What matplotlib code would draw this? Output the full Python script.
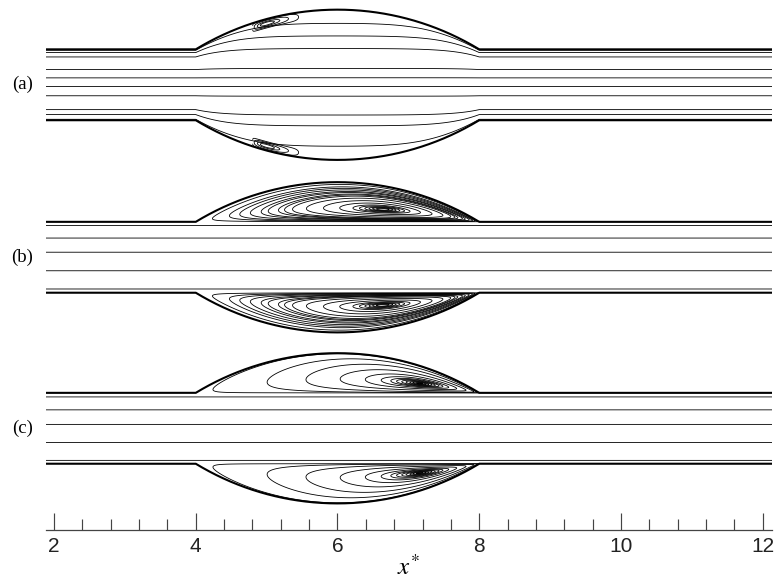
import numpy as np
import matplotlib
matplotlib.use("Agg")
import matplotlib.pyplot as plt
from matplotlib.ticker import FixedLocator, MultipleLocator

plt.rcParams["mathtext.fontset"] = "stix"
plt.rcParams["contour.negative_linestyle"] = "solid"

# ---- channel geometry (lengths measured in channel widths) ----
x_lo, x_hi = 1.887, 12.131
bulge_start, bulge_end = 4.0, 8.0
bulge_depth = 0.56
half_width = 0.5

panel_labels = ["(a)", "(b)", "(c)"]
panel_centres = [7.03, 4.596, 2.183]

# stream-function levels in the straight channel (psi = +1 top wall, -1 bottom wall)
core_levels = [
    [0.999, 0.988, 0.936, 0.605, 0.289, -0.075, -0.450, -0.879, -0.964, -0.999],
    [0.984, 0.734, 0.213, -0.543, -0.984],
    [0.981, 0.710, 0.164, -0.568, -0.987],
]
# how strongly the outer streamlines of (a) are drawn into the bulge
spread_power = 1.8

# recirculating eddy filling the bulge in (b) and (c)
eddy_centre_u = [0.66, 0.79]      # position along the bulge (0 = start, 1 = end)
eddy_centre_t = 0.35              # position across the bulge (0 = core edge, 1 = wall)
eddy_skew_left = [1.165, 1.88]
eddy_skew_right = [0.6, 0.5]
eddy_levels_b = [0.11, 0.24, 0.32, 0.40, 0.48, 0.53, 0.60, 0.64, 0.69, 0.77,
                 0.855, 0.92, 0.96, 0.975, 0.985, 0.991, 0.995, 0.998]
eddy_levels_c = [0.017, 0.22, 0.45, 0.67, 0.82, 0.90, 0.94, 0.96, 0.975,
                 0.985, 0.992, 0.996, 0.999]

# small separation bubble hugging the bulge wall in (a)
bubble_x = [4.80, 5.00, 5.55]     # start, core, end
bubble_thickness = 0.13
bubble_levels = [0.12, 0.45, 0.75, 0.9]

# ruler
major_ticks = [2, 4, 6, 8, 10, 12]
minor_step = 0.4

PX = 70.87                         # pixels per unit length
W_PX, H_PX = 775, 583


def bulge(x):
    L = bulge_end - bulge_start
    R = (L ** 2 / 4 + bulge_depth ** 2) / (2 * bulge_depth)
    mid = 0.5 * (bulge_start + bulge_end)
    out = np.zeros_like(x)
    inside = (x > bulge_start) & (x < bulge_end)
    out[inside] = np.sqrt(R ** 2 - (x[inside] - mid) ** 2) - (R - bulge_depth)
    return np.clip(out, 0, None)


def poiseuille(e):
    return 1.5 * e - 0.5 * e ** 3


def skew_bump(u, uc, a, c):
    u = np.clip(u, 0, 1)
    return (u / uc) ** a * ((1 - u) / (1 - uc)) ** c


xs = np.linspace(x_lo, x_hi, 2400)
ys = np.linspace(-1.12, 1.12, 1100)
X, Y = np.meshgrid(xs, ys)
B = bulge(X)
YW = half_width + B
A = np.abs(Y)
SG = np.sign(Y)
outside = A > YW + 1e-9

fig = plt.figure(figsize=(W_PX / 100, H_PX / 100), dpi=100)
ax = fig.add_axes([46 / W_PX, 0, 726 / W_PX, 1])
ax.set_xlim(x_lo, x_hi)
ax.set_ylim(0, H_PX / PX)
ax.axis("off")

line_kw = dict(colors="k", linewidths=0.6, linestyles="solid")

for k, yc in enumerate(panel_centres):
    if k == 0:
        # attached flow: outer streamlines spread into the bulge, core stays put
        m = Y / (half_width + B * np.clip(A / YW, 0, 1) ** spread_power)
        psi = np.ma.masked_where(outside, poiseuille(np.clip(m, -1, 1)))
        ax.contour(X, Y + yc, psi, levels=sorted(core_levels[0]), **line_kw)

        # separation bubbles next to both bulge walls
        d = YW - A
        uc = (bubble_x[1] - bubble_x[0]) / (bubble_x[2] - bubble_x[0])
        ub = (X - bubble_x[0]) / (bubble_x[2] - bubble_x[0])
        P = skew_bump(ub, uc, 0.6, 0.6 * (1 - uc) / uc)
        dd = np.clip(d / bubble_thickness, 0, 1)
        G = P * 4 * dd * (1 - dd)
        G = np.ma.masked_where(outside | (ub <= 0) | (ub >= 1), G)
        ax.contour(X, Y + yc, G, levels=bubble_levels, **line_kw)
    else:
        j = k - 1
        psi = poiseuille(np.clip(Y / half_width, -1, 1))
        in_bulge = (A > half_width) & (B > 1e-9) & ~outside
        t = np.where(in_bulge, (A - half_width) / np.where(B > 1e-9, B, 1), 0)
        u = (X - bulge_start) / (bulge_end - bulge_start)
        tc = eddy_centre_t
        mexp = 0.6
        nexp = mexp * (1 - tc) / tc
        tt = np.clip(t, 0, 1)
        Q = (tt / tc) ** mexp * ((1 - tt) / (1 - tc)) ** nexp
        V = skew_bump(u, eddy_centre_u[j], eddy_skew_left[j], eddy_skew_right[j]) * Q
        psi = np.where(in_bulge, SG * (1 + V), psi)
        psi = np.ma.masked_where(outside, psi)
        eddy = eddy_levels_b if j == 0 else eddy_levels_c
        levels = sorted(core_levels[k] + [1 + v for v in eddy] + [-(1 + v) for v in eddy])
        ax.contour(X, Y + yc, psi, levels=levels, **line_kw)

    # channel walls
    wall = half_width + bulge(xs)
    ax.plot(xs, yc + wall, color="k", lw=1.5, solid_capstyle="butt")
    ax.plot(xs, yc - wall, color="k", lw=1.5, solid_capstyle="butt")

    ax.text(x_lo + (22.5 - 46) / PX, yc, panel_labels[k], ha="center", va="center",
            fontsize=13.5, family="Liberation Serif", clip_on=False)

# ruler along the bottom
axr = fig.add_axes([46 / W_PX, (H_PX - 530) / H_PX, 726 / W_PX, 0.04])
axr.set_xlim(x_lo, x_hi)
axr.patch.set_alpha(0)
for s in ["top", "left", "right"]:
    axr.spines[s].set_visible(False)
axr.spines["bottom"].set_color("#444444")
axr.spines["bottom"].set_linewidth(0.9)
axr.set_yticks([])
axr.xaxis.set_major_locator(FixedLocator(major_ticks))
axr.xaxis.set_minor_locator(MultipleLocator(minor_step))
axr.tick_params(axis="x", which="major", direction="in", length=12.2, width=0.85,
                color="#444444", pad=5, labelsize=15)
axr.tick_params(axis="x", which="minor", direction="in", length=7.9, width=0.85,
                color="#444444")
for lab in axr.get_xticklabels():
    lab.set_family("Liberation Sans")
    lab.set_color("#222222")

fig.text(408 / W_PX, (H_PX - 567) / H_PX, r"$x^{*}$", ha="center", va="center",
         fontsize=18)

fig.savefig("out.png", dpi=100)
